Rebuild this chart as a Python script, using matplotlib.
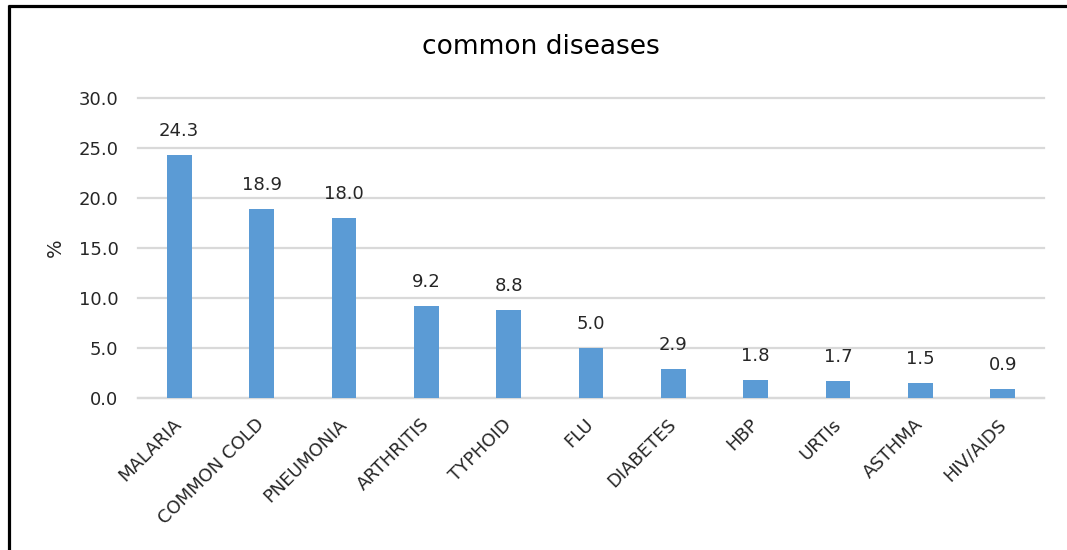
import matplotlib
matplotlib.use("Agg")
import matplotlib.pyplot as plt
from matplotlib.lines import Line2D

categories = ["MALARIA", "COMMON COLD", "PNEUMONIA", "ARTHRITIS", "TYPHOID", "FLU",
              "DIABETES", "HBP", "URTIs", "ASTHMA", "HIV/AIDS"]
percentages = [24.3, 18.9, 18.0, 9.2, 8.8, 5.0, 2.9, 1.8, 1.7, 1.5, 0.9]
y_ticks = [0.0, 5.0, 10.0, 15.0, 20.0, 25.0, 30.0]

plt.rcParams["font.family"] = ["DejaVu Sans"]

W, H = 1067, 550
fig = plt.figure(figsize=(W / 100, H / 100), dpi=100)
ax = fig.add_axes([138 / W, 1 - 398 / H, (1044 - 138) / W, (398 - 98) / H])

x = list(range(len(categories)))
bars = ax.bar(x, percentages, width=0.30, color="#5B9BD5", zorder=3)

for xi, v in zip(x, percentages):
    ax.annotate(f"{v:.1f}", (xi, v), xytext=(0, 11), textcoords="offset points",
                ha="center", va="bottom", fontsize=13, color="#262626")

ax.set_xlim(-0.5, len(categories) - 0.5)
ax.set_ylim(0, 30)
ax.set_yticks(y_ticks)
ax.set_yticklabels([f"{t:.1f}" for t in y_ticks], fontsize=13, color="#262626")
ax.tick_params(axis="y", length=0, pad=14)
ax.yaxis.grid(True, color="#D9D9D9", linewidth=1.6, zorder=0)
ax.set_axisbelow(True)
for gl in ax.get_ygridlines():
    gl.set_clip_on(False)

ax.set_xticks(x)
ax.set_xticklabels(categories, rotation=45, ha="right", va="center",
                   rotation_mode="anchor", fontsize=13, color="#262626")
ax.tick_params(axis="x", length=0, pad=17)

for side in ["top", "right", "left"]:
    ax.spines[side].set_visible(False)
ax.spines["bottom"].set_color("#D9D9D9")
ax.spines["bottom"].set_linewidth(1.6)

ax.set_ylabel("%", fontsize=14, color="#262626", labelpad=10)
fig.text(541 / W, 1 - 47 / H, "common diseases", ha="center", va="center",
         fontsize=19, color="#000000")

# frame edges along the top and left of the canvas
fig.add_artist(Line2D([7.5 / W, 1.0], [1 - 5.5 / H, 1 - 5.5 / H], color="black",
                      linewidth=2.3, solid_capstyle="butt", transform=fig.transFigure))
fig.add_artist(Line2D([8.5 / W, 8.5 / W], [0.0, 1 - 4.5 / H], color="black",
                      linewidth=2.3, solid_capstyle="butt", transform=fig.transFigure))

fig.savefig("out.png", dpi=100, facecolor="white")
